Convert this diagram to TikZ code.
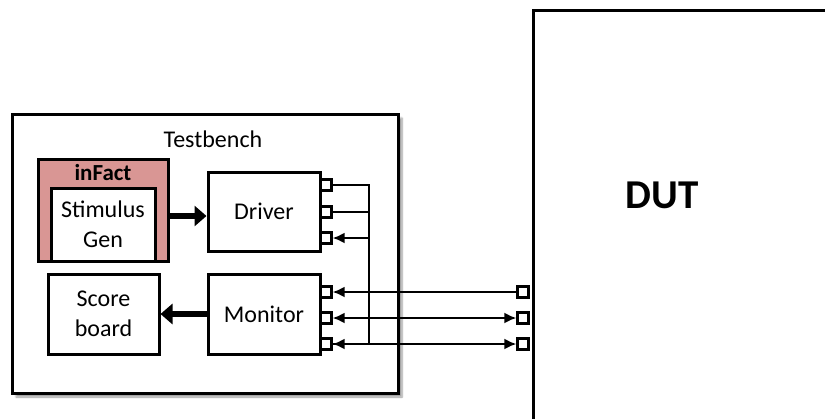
\documentclass[tikz,border=0pt]{standalone}
\usepackage{fontspec}
\setmainfont{Carlito}
\usetikzlibrary{positioning,arrows.meta,shadows.blur}
\definecolor{tbred}{HTML}{D99694}
\tikzset{
  blk/.style  ={rectangle, draw=black, line width=3pt, fill=white,
                align=center, font=\fontsize{24}{30}\selectfont, inner sep=0pt},
  prt/.style  ={rectangle, draw=black, line width=2.2pt, fill=white,
                minimum size=11pt, inner sep=0pt},
  wire/.style ={line width=2.2pt, draw=black},
  wa/.style   ={wire, -{Latex[length=12pt,width=11pt]}},
  wab/.style  ={wire, {Latex[length=12pt,width=11pt]}-{Latex[length=12pt,width=11pt]}},
  fat/.style  ={line width=6.5pt, -{Triangle[length=12pt,width=20pt]}},
  lbl/.style  ={font=\fontsize{24}{28}\selectfont, inner sep=0pt}
}

\begin{document}
\begin{tikzpicture}[x=1pt,y=-1pt]
  \useasboundingbox (0,0) rectangle (825,418);
  % --- outer blocks
  \node[blk,minimum width=386,minimum height=279,
        blur shadow={shadow xshift=4pt,shadow yshift=-4pt,shadow blur steps=6}]
                                             (tb)     at (205,253.5) {};
  \node[lbl]                                 (tbl)    at (213,139)   {Testbench};
  \node[blk,anchor=north west,minimum width=320,minimum height=420]
                                             (dut)    at (532,9)     {};
  \node[font=\fontsize{41}{44}\selectfont\bfseries] (dutl) at (662,195) {DUT};
  % --- testbench parts
  \node[blk,fill=tbred,minimum width=130,minimum height=102] (infact) at (103,210) {};
  \node[lbl,font=\fontsize{23}{26}\selectfont\bfseries]      (infl)   at (103,173) {inFact};
  \node[blk,minimum width=104,minimum height=73]   (stim)   at (103,224.5) {Stimulus\\Gen};
  \node[blk,minimum width=112,minimum height=79]   (drv)    at (264,211.5) {Driver};
  \node[blk,minimum width=112,minimum height=80]   (mon)    at (264,314)   {Monitor};
  \node[blk,minimum width=111,minimum height=80]   (score)  at (103.5,314) {Score\\board};

  \draw[fat] ([yshift=-6pt]infact.east) -- ([yshift=-6pt]infact.east -| drv.west);
  \draw[fat] (mon) -- (score);

  % --- ports
  \node[prt] (d1) at (326,185) {};
  \node[prt] (d2) at (326,212) {};
  \node[prt] (d3) at (326,238) {};
  \node[prt] (m1) at (326,292) {};
  \node[prt] (m2) at (326,318) {};
  \node[prt] (m3) at (326,344) {};
  \node[prt] (p1) at (523,292) {};
  \node[prt] (p2) at (523,318) {};
  \node[prt] (p3) at (523,344) {};

  % --- bus
  \coordinate (bust) at (369,185);
  \coordinate (busb) at (369,344);
  \draw[wire] (d1.east) -- (bust) -- (busb) -- (m3.east);
  \draw[wire] (d2.east) -- (d2.east -| bust);
  \draw[wa] (d3.east -| bust) -- (d3.east);
  \draw[wa]  (p1.west) -- (m1.east);
  \draw[wab] (p2.west) -- (m2.east);
  \draw[wab] (p3.west) -- (m3.east);
\end{tikzpicture}
\end{document}
